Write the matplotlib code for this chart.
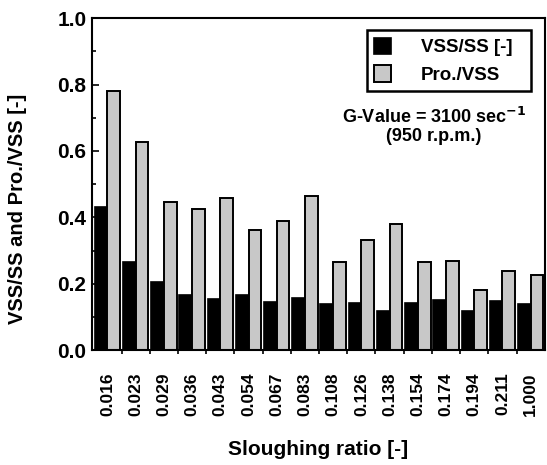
import numpy as np
import matplotlib.pyplot as plt
from matplotlib.ticker import MultipleLocator, FixedLocator, FormatStrFormatter

plt.rcParams['font.family'] = ['Liberation Sans', 'DejaVu Sans']
plt.rcParams['font.weight'] = 'bold'
plt.rcParams['mathtext.default'] = 'bf'

ratios = ['0.016', '0.023', '0.029', '0.036', '0.043', '0.054', '0.067', '0.083',
          '0.108', '0.126', '0.138', '0.154', '0.174', '0.194', '0.211', '1.000']
vss_ss = [0.43, 0.264, 0.206, 0.165, 0.153, 0.167, 0.144, 0.158,
          0.140, 0.142, 0.118, 0.142, 0.151, 0.118, 0.147, 0.138]
pro_vss = [0.781, 0.627, 0.445, 0.426, 0.459, 0.363, 0.388, 0.465,
           0.266, 0.333, 0.380, 0.264, 0.267, 0.181, 0.237, 0.227]

x = np.arange(len(ratios))
w = 0.45

fig = plt.figure(figsize=(5.47, 4.65), dpi=100)
ax = fig.add_axes([0.168, 0.247, 0.828, 0.714])

ax.bar(x - w/2, vss_ss, w, color='black', edgecolor='black', linewidth=1.2, label='VSS/SS [-]')
ax.bar(x + w/2, pro_vss, w, color='#c8c8c8', edgecolor='black', linewidth=1.4, label='Pro./VSS')

ax.set_xlim(-0.55, len(ratios) - 0.5)
ax.set_ylim(0, 1.0)
ax.yaxis.set_major_locator(MultipleLocator(0.2))
ax.yaxis.set_minor_locator(MultipleLocator(0.1))
ax.yaxis.set_major_formatter(FormatStrFormatter('%.1f'))
ax.set_xticks(x)
ax.set_xticklabels(ratios, rotation=90, fontsize=12.5, fontweight='bold')
ax.xaxis.set_minor_locator(FixedLocator(x[:-1] + 0.5))
ax.tick_params(axis='x', which='major', length=0, pad=16)
ax.tick_params(axis='x', which='minor', direction='out', length=3, width=1.2)
ax.tick_params(axis='y', which='both', direction='in', width=1.2, labelsize=15)
ax.tick_params(axis='y', which='major', length=5, pad=4)
ax.tick_params(axis='y', which='minor', length=3)
for s in ax.spines.values():
    s.set_linewidth(1.5)

ax.set_ylabel('VSS/SS and Pro./VSS [-]', fontsize=14.5, fontweight='bold')
ax.yaxis.set_label_coords(-0.1435, 0.425)
ax.set_xlabel('Sloughing ratio [-]', fontsize=15, fontweight='bold')
ax.xaxis.set_label_coords(0.5, -0.271)

leg = ax.legend(loc='upper left', bbox_to_anchor=(0.607, 0.786, 0.362, 0.178),
                mode='expand', fontsize=13.5,
                frameon=True, fancybox=False, edgecolor='black', framealpha=1,
                handlelength=0.9, handleheight=1.0, handletextpad=1.6,
                borderpad=0.4, labelspacing=0.45, borderaxespad=0)
leg.get_frame().set_linewidth(1.8)
for t in leg.get_texts():
    t.set_fontweight('bold')

ax.text(0.755, 0.675, 'G-Value = 3100 sec$^{-1}$\n(950 r.p.m.)', transform=ax.transAxes,
        ha='center', va='center', fontsize=13, fontweight='bold', linespacing=1.05)

fig.savefig('out.png', dpi=100)
